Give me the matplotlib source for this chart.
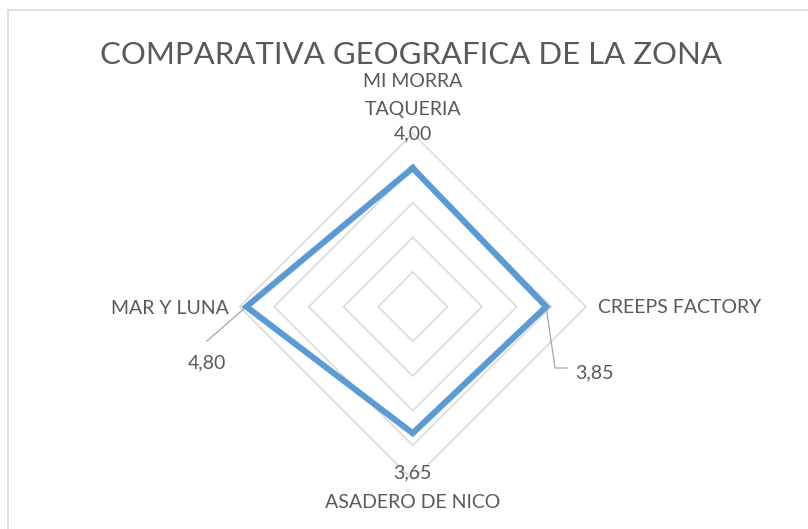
import numpy as np
import matplotlib
matplotlib.use("Agg")
import matplotlib.pyplot as plt
from matplotlib.patches import Rectangle

# datos del grafico
categorias = ["MI MORRA\nTAQUERIA", "CREEPS FACTORY", "ASADERO DE NICO", "MAR Y LUNA"]
valores = [4.00, 3.85, 3.65, 4.80]
etiquetas = ["4,00", "3,85", "3,65", "4,80"]
anillos = [1, 2, 3, 4, 5]
titulo = "COMPARATIVA GEOGRAFICA DE LA ZONA"

W, H = 808, 529
cx, cy = 412.7, 306.7      # centro del radar en pixeles (desde arriba)
k = 173.3 / 5              # pixeles por unidad

plt.rcParams['font.family'] = ['Lato', 'DejaVu Sans']
gris = '#595959'

fig = plt.figure(figsize=(W / 100, H / 100), dpi=100)
ax = fig.add_axes([0, 0, 1, 1])
ax.set_xlim(-cx / k, (W - cx) / k)
ax.set_ylim(-(H - cy) / k, cy / k)
ax.axis('off')

# angulos: arriba, derecha, abajo, izquierda
ang = np.pi / 2 - np.arange(len(valores)) * 2 * np.pi / len(valores)
ang_c = np.append(ang, ang[0])

for r in anillos:
    ax.plot(r * np.cos(ang_c), r * np.sin(ang_c), color='#d9d9d9', lw=1.1, zorder=1)

v = np.append(valores, valores[0])
ax.plot(v * np.cos(ang_c), v * np.sin(ang_c), color='#5b9bd5', lw=4.4,
        solid_joinstyle='miter', zorder=3)

def px(x, y):
    return (x - cx) / k, (cy - y) / k

fs = 14
# categorias
nombre1, nombre2 = categorias[0].split("\n")
ax.text(*px(cx, 87), nombre1, ha='center', va='baseline', fontsize=fs, color=gris)
ax.text(*px(cx, 115), nombre2, ha='center', va='baseline', fontsize=fs, color=gris)
ax.text(*px(598, 313), categorias[1], ha='left', va='baseline', fontsize=fs, color=gris)
ax.text(*px(cx, 508), categorias[2], ha='center', va='baseline', fontsize=fs, color=gris)
ax.text(*px(229, 314), categorias[3], ha='right', va='baseline', fontsize=fs, color=gris)

# etiquetas de datos
ax.text(*px(cx, 139.5), etiquetas[0], ha='center', va='baseline', fontsize=fs, color=gris)
ax.text(*px(575, 378), etiquetas[1], ha='left', va='baseline', fontsize=fs, color=gris)
ax.text(*px(cx, 478), etiquetas[2], ha='center', va='baseline', fontsize=fs, color=gris)
ax.text(*px(207, 368), etiquetas[3], ha='center', va='baseline', fontsize=fs, color=gris)

# lineas guia
x1 = valores[1] * np.cos(ang[1])
p2 = px(555, 368)
p3 = px(567, 368)
ax.plot([x1, p2[0], p3[0]], [0, p2[1], p3[1]], color='#a6a6a6', lw=0.9, zorder=2)
x3 = valores[3] * np.cos(ang[3])
q2 = px(207, 341)
ax.plot([x3, q2[0]], [0, q2[1]], color='#a6a6a6', lw=0.9, zorder=2)

fig.text(411.5 / W, 1 - 64.5 / H, titulo, ha='center', va='baseline', fontsize=22.4, color=gris)

# borde del area del grafico
fig.add_artist(Rectangle((7.5 / W, -0.05), 1.1, (H - 9.5) / H + 0.05,
                         transform=fig.transFigure, fill=False,
                         edgecolor='#d9d9d9', lw=1.2, clip_on=False))

fig.savefig('out.png', dpi=100)
